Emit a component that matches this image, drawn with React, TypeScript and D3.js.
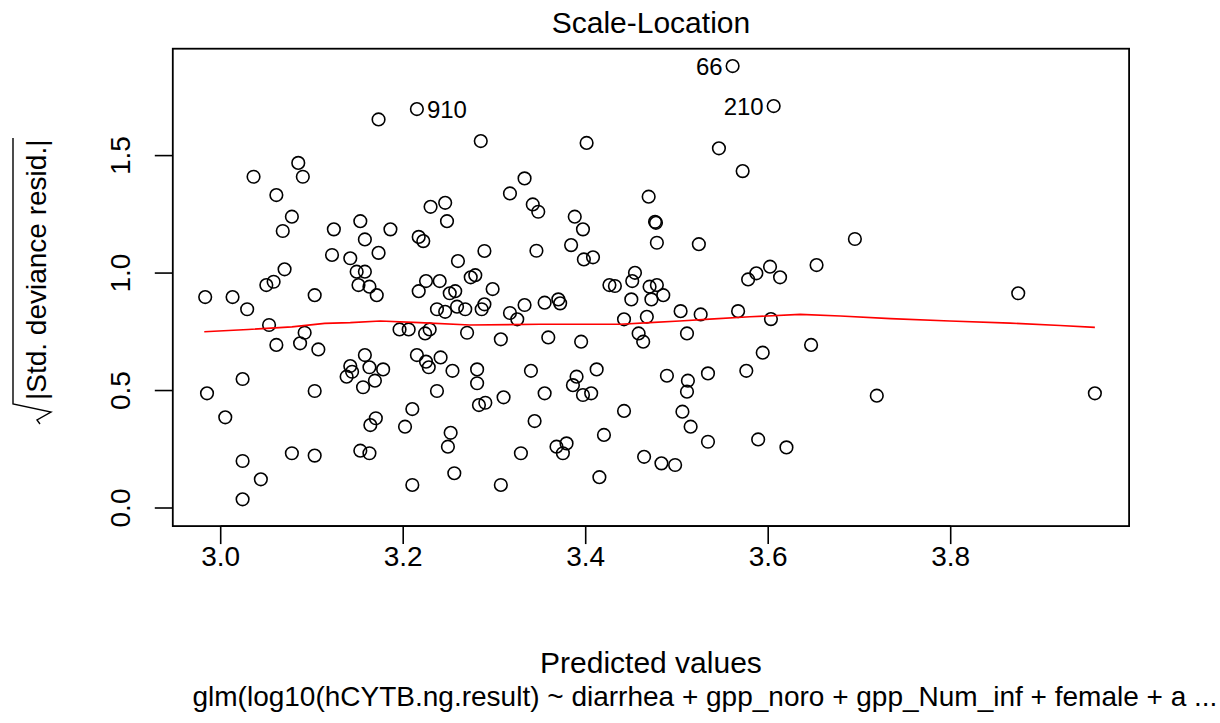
import React from "react";
import * as d3 from "d3";

// fitted (predicted) values
const fitted: number[] = [
  2.983, 3.013, 3.029, 2.985, 3.005, 3.024, 3.024, 3.024, 3.036, 3.044,
  3.050, 3.053, 3.058, 3.061, 3.061, 3.068, 3.070, 3.078, 3.078, 3.085,
  3.090, 3.087, 3.092, 3.103, 3.103, 3.103, 3.107, 3.122, 3.124,
  3.138, 3.144, 3.142, 3.142, 3.149, 3.158, 3.151, 3.163, 3.171, 3.153,
  3.153, 3.163, 3.156, 3.158, 3.158, 3.163, 3.164, 3.169, 3.170, 3.173,
  3.173, 3.178, 3.186, 3.196, 3.202, 3.206, 3.210, 3.210, 3.215, 3.215,
  3.217, 3.217, 3.222, 3.224, 3.225, 3.225, 3.228, 3.229, 3.230, 3.237,
  3.237, 3.240, 3.241, 3.246, 3.246, 3.248, 3.249, 3.251, 3.252, 3.254,
  3.256, 3.257, 3.259, 3.260, 3.268, 3.270, 3.274, 3.279, 3.281, 3.281,
  3.283, 3.285, 3.286, 3.289, 3.289, 3.290, 3.298, 3.307, 3.307, 3.310,
  3.317, 3.317,
  3.325, 3.329, 3.333, 3.333, 3.340, 3.342, 3.344, 3.346, 3.348, 3.355,
  3.355, 3.359, 3.368, 3.370, 3.372, 3.375, 3.379, 3.384, 3.386, 3.388,
  3.390, 3.395, 3.397, 3.397, 3.398, 3.401, 3.406, 3.408, 3.412, 3.415,
  3.420, 3.426, 3.432, 3.442, 3.442, 3.450, 3.451, 3.454, 3.458, 3.463,
  3.464, 3.467, 3.469, 3.470, 3.472, 3.476, 3.477, 3.478, 3.478, 3.483,
  3.485, 3.489, 3.498,
  3.504, 3.506, 3.511, 3.512, 3.511, 3.515, 3.524, 3.526, 3.534, 3.534,
  3.546, 3.561, 3.567, 3.572, 3.576, 3.578, 3.587, 3.589, 3.594, 3.602,
  3.603, 3.606, 3.613, 3.620, 3.647, 3.653, 3.695, 3.719, 3.874, 3.958,
];

// sqrt(|std. deviance residual|)
const sqrtResid: number[] = [
  0.898, 0.898, 0.846, 0.488, 0.386, 0.200, 0.037, 0.549, 1.410, 0.122,
  0.949, 0.779, 0.963, 1.332, 0.694, 1.179, 1.016, 0.233, 1.240, 1.469,
  1.410, 0.701, 0.746, 0.906, 0.223, 0.498, 0.675, 1.077, 1.186,
  0.559, 0.580, 0.604, 1.063, 1.006, 1.006, 0.949, 0.942, 0.906, 1.221,
  0.244, 0.233, 0.514, 0.651, 1.143, 0.599, 0.353, 0.542, 0.382, 1.654,
  1.086, 0.590, 1.186, 0.760, 0.346, 0.760, 0.421, 0.098, 1.698, 0.651,
  1.154, 0.923, 1.136, 0.743, 0.966, 0.623, 0.599, 0.760, 1.282, 0.846,
  0.498, 0.966, 0.641, 1.299, 0.835, 1.221, 0.261, 0.914, 0.320, 0.584,
  0.148, 0.923, 0.857, 1.051, 0.846, 0.746, 0.982, 0.991, 0.590, 0.531,
  0.438, 1.562, 0.846, 1.094, 0.867, 0.448, 0.932, 0.718, 0.098, 0.471,
  0.830, 1.339,
  0.803, 0.233, 1.403, 0.864, 0.584, 1.292, 0.370, 1.095, 1.261, 0.874,
  0.488, 0.726, 0.261, 0.888, 0.871, 0.233, 0.275, 1.119, 0.523, 1.240,
  0.559, 0.708, 1.186, 0.481, 1.058, 1.554, 0.488, 1.067, 0.590, 0.131,
  0.311, 0.949, 0.945, 0.803, 0.413, 0.888, 0.966, 1.001, 0.743, 0.708,
  0.218, 0.814, 1.325, 0.942, 0.888, 1.218, 1.214, 1.129, 0.949, 0.190,
  0.906, 0.563, 0.183,
  0.838, 0.410, 0.743, 0.542, 0.495, 0.346, 1.123, 0.824, 0.573, 0.282,
  1.531, 1.881, 0.838, 1.434, 0.584, 0.973, 0.999, 0.292, 0.661, 1.027,
  0.804, 1.711, 0.982, 0.258, 0.694, 1.034, 1.145, 0.478, 0.914, 0.488,
];

// identified observations
const idNames: string[] = ["66", "210", "910"];
const idFitted: number[] = [3.561, 3.606, 3.215];
const idResid: number[] = [1.881, 1.711, 1.698];
const idSide: string[] = ["left", "left", "right"];

// lowess smooth (red line)
const smoothX: number[] = [
  2.982, 3.030, 3.078, 3.114, 3.142, 3.175, 3.218, 3.273, 3.350, 3.438,
  3.470, 3.503, 3.536, 3.580, 3.635, 3.679, 3.734, 3.799, 3.865, 3.920, 3.958,
];
const smoothY: number[] = [
  0.750, 0.760, 0.771, 0.786, 0.789, 0.796, 0.789, 0.779, 0.782, 0.782,
  0.789, 0.796, 0.804, 0.814, 0.824, 0.817, 0.806, 0.796, 0.787, 0.777, 0.769,
];

const xTicks: number[] = [3.0, 3.2, 3.4, 3.6, 3.8];
const yTicks: number[] = [0.0, 0.5, 1.0, 1.5];
const xLim: number[] = [2.9475, 3.9955];
const yLim: number[] = [-0.077, 1.955];

const title = "Scale-Location";
const xLabel = "Predicted values";
const yLabel = "|Std. deviance resid.|";
const subCaption =
  "glm(log10(hCYTB.ng.result) ~ diarrhea + gpp_noro + gpp_Num_inf + female + a ...";

const FONT = "'Liberation Sans', Arial, sans-serif";

export default function App() {
  const x = d3.scaleLinear().domain([3.0, 3.8]).range([220.7, 950.7]);
  const y = d3.scaleLinear().domain([0, 1.5]).range([508, 155.6]);

  const left = x(xLim[0]);
  const right = x(xLim[1]);
  const top = y(yLim[1]);
  const bottom = y(yLim[0]);
  const cx = (left + right) / 2;

  const line = d3
    .line<number>()
    .x((_, i) => x(smoothX[i]))
    .y((_, i) => y(smoothY[i]));

  return (
    <svg
      width={1220}
      height={723}
      style={{ position: "absolute", left: 0, top: 0, background: "#fff" }}
      fontFamily={FONT}
    >
      <rect x={0} y={0} width={1220} height={723} fill="#fff" />
      {/* points */}
      {fitted.map((f, i) => (
        <circle
          key={i}
          cx={x(f)}
          cy={y(sqrtResid[i])}
          r={6.3}
          fill="none"
          stroke="#000"
          strokeWidth={1.6}
        />
      ))}
      {/* smooth */}
      <path
        d={line(smoothX) || ""}
        fill="none"
        stroke="#ff0000"
        strokeWidth={1.6}
      />
      {/* id labels */}
      {idNames.map((n, i) => (
        <text
          key={n}
          x={x(idFitted[i]) + (idSide[i] === "right" ? 10 : -10)}
          y={y(idResid[i]) + 8.5}
          textAnchor={idSide[i] === "right" ? "start" : "end"}
          fontSize={24}
          fill="#000"
        >
          {n}
        </text>
      ))}
      {/* box */}
      <rect
        x={left}
        y={top}
        width={right - left}
        height={bottom - top}
        fill="none"
        stroke="#000"
        strokeWidth={1.8}
      />
      {/* x axis */}
      <line
        x1={x(xTicks[0])}
        x2={x(xTicks[xTicks.length - 1])}
        y1={bottom}
        y2={bottom}
        stroke="#000"
        strokeWidth={1.8}
      />
      {xTicks.map((t) => (
        <g key={t}>
          <line
            x1={x(t)}
            x2={x(t)}
            y1={bottom}
            y2={bottom + 18}
            stroke="#000"
            strokeWidth={1.6}
          />
          <text
            x={x(t)}
            y={566}
            textAnchor="middle"
            fontSize={28}
            fill="#000"
          >
            {t.toFixed(1)}
          </text>
        </g>
      ))}
      {/* y axis */}
      {yTicks.map((t) => (
        <g key={t}>
          <line
            x1={left}
            x2={left - 18}
            y1={y(t)}
            y2={y(t)}
            stroke="#000"
            strokeWidth={1.6}
          />
          <text
            transform={`translate(130, ${y(t)}) rotate(-90)`}
            textAnchor="middle"
            fontSize={28}
            fill="#000"
          >
            {t.toFixed(1)}
          </text>
        </g>
      ))}
      {/* y label with sqrt */}
      <g transform="translate(46, 400) rotate(-90)">
        <text x={0} y={0} fontSize={28} fill="#000">
          {yLabel}
        </text>
        <path
          d="M -24 -6 L -20 -9 L -12 5 L -4 -33 L 262 -33"
          fill="none"
          stroke="#000"
          strokeWidth={1.4}
        />
      </g>
      {/* title & labels */}
      <text x={cx} y={33} textAnchor="middle" fontSize={30} fill="#000">
        {title}
      </text>
      <text x={cx} y={673} textAnchor="middle" fontSize={30} fill="#000">
        {xLabel}
      </text>
      <text x={cx + 54} y={706} textAnchor="middle" fontSize={28} fill="#000">
        {subCaption}
      </text>
    </svg>
  );
}
